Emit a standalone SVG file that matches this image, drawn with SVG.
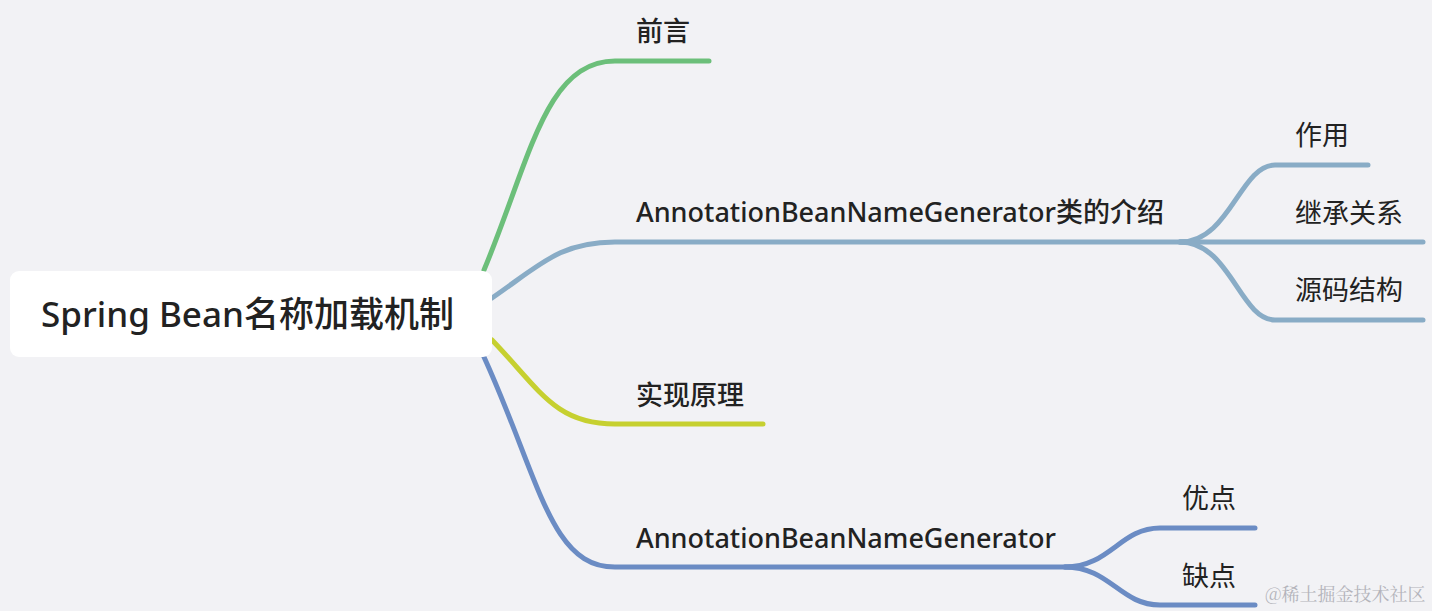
<svg xmlns="http://www.w3.org/2000/svg" width="1432" height="611" viewBox="0 0 1432 611">
<style>
.t{font-family:"Noto Sans","Noto Sans CJK SC",sans-serif;fill:#222;}
.l1{font-size:27px;font-weight:500;}
.l2{font-size:27px;font-weight:400;}
.c{fill:none;stroke-width:5;stroke-linecap:round;}
</style>
<rect width="1432" height="611" fill="#f2f2f5"/>
<g id="connectors">
<path class="c" stroke="#6cbf7a" d="M484,270 C530,160 545,61 615,61 L709,61"/>
<path class="c" stroke="#89acc6" d="M492,298 C540,265 560,242 615,242 L1185,242"/>
<path class="c" stroke="#c6d030" d="M492,340 C540,390 555,424 615,424 L763,424"/>
<path class="c" stroke="#6b8cc4" d="M484,357 C540,480 550,567 615,567 L1070,567"/>
<path class="c" stroke="#89acc6" d="M1180,242 C1230,242 1240,165 1275,165 L1368,165"/>
<path class="c" stroke="#89acc6" d="M1180,242 L1423,242"/>
<path class="c" stroke="#89acc6" d="M1180,242 C1230,242 1240,320 1275,320 L1423,320"/>
<path class="c" stroke="#6b8cc4" d="M1065,567 C1110,567 1120,528 1160,528 L1255,528"/>
<path class="c" stroke="#6b8cc4" d="M1065,567 C1110,567 1120,605 1160,605 L1255,605"/>
</g>
<g id="root">
<rect x="10" y="271" width="482" height="86" rx="9" fill="#ffffff"/>
<text class="t" x="41" y="327" font-size="35" font-weight="500">Spring Bean名称加载机制</text>
</g>
<g id="n-qianyan"><text class="t l1" x="636" y="41" font-weight="700">前言</text></g>
<g id="n-intro"><text class="t l1" x="636" y="222">AnnotationBeanNameGenerator类的介绍</text></g>
<g id="n-principle"><text class="t l1" x="636" y="405" font-weight="700">实现原理</text></g>
<g id="n-gen"><text class="t l1" x="636" y="548">AnnotationBeanNameGenerator</text></g>
<g id="n-zuoyong"><text class="t l2" x="1295" y="145">作用</text></g>
<g id="n-jicheng"><text class="t l2" x="1295" y="223">继承关系</text></g>
<g id="n-yuanma"><text class="t l2" x="1295" y="300">源码结构</text></g>
<g id="n-youdian"><text class="t l2" x="1182" y="508">优点</text></g>
<g id="n-quedian"><text class="t l2" x="1182" y="586">缺点</text></g>
<text x="1265" y="601" font-family="'Noto Serif CJK SC','Noto Sans CJK SC',serif" font-size="18" fill="#b4b4bb">@稀土掘金技术社区</text>
</svg>
